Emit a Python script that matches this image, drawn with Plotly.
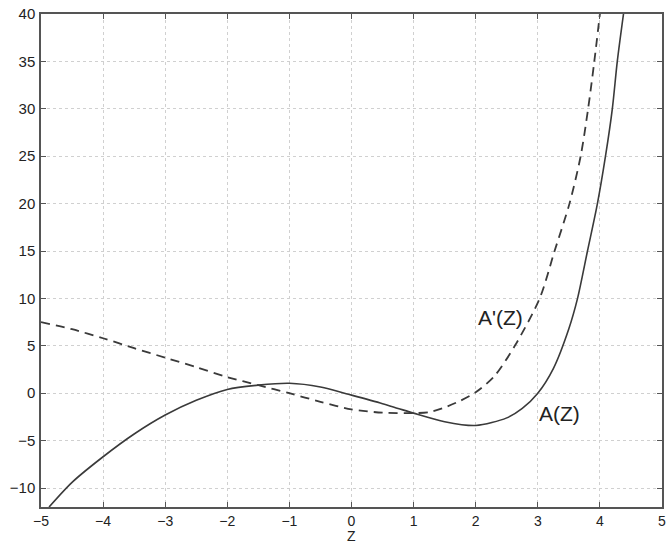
import plotly.graph_objects as go

# A(Z) solid curve
a_z = [-4.87, -4.5, -4.0, -3.5, -3.0, -2.5, -2.0, -1.5, -1.0, -0.5, 0.0, 0.5, 0.75, 1.0, 1.5, 2.0, 2.5, 2.75, 3.0, 3.25, 3.5, 3.64, 3.8, 3.96, 4.09, 4.2, 4.28, 4.38]
a_val = [-12.0, -9.4, -6.7, -4.3, -2.3, -0.75, 0.4, 0.85, 1.05, 0.66, -0.2, -1.1, -1.6, -2.1, -3.0, -3.4, -2.6, -1.6, 0.0, 2.6, 6.8, 10.0, 15.0, 20.0, 25.0, 30.0, 35.0, 40.0]

# A'(Z) dashed curve
d_z = [-5.0, -4.5, -4.0, -3.5, -3.0, -2.5, -2.0, -1.5, -1.0, -0.5, 0.0, 0.5, 1.0, 1.25, 1.5, 1.75, 2.0, 2.3, 2.63, 3.03, 3.27, 3.51, 3.69, 3.81, 3.91, 4.0]
d_val = [7.5, 6.75, 5.8, 4.75, 3.75, 2.75, 1.7, 0.85, 0.0, -0.9, -1.7, -2.05, -2.1, -2.0, -1.5, -0.8, 0.1, 1.8, 5.0, 10.0, 15.0, 20.0, 25.0, 30.0, 35.0, 40.0]

x_ticks = [-5, -4, -3, -2, -1, 0, 1, 2, 3, 4, 5]
y_ticks = [-10, -5, 0, 5, 10, 15, 20, 25, 30, 35, 40]
x_title = "Z"

font_fam = "Liberation Sans, Arial, sans-serif"
line_col = "#3a3a3a"
fig = go.Figure()
fig.add_trace(go.Scatter(x=a_z, y=a_val, mode="lines", line=dict(color=line_col, width=1.6, shape="spline", smoothing=0.8), showlegend=False))
fig.add_trace(go.Scatter(x=d_z, y=d_val, mode="lines", line=dict(color=line_col, width=1.8, shape="spline", smoothing=0.8, dash="9px,6px"), showlegend=False))

fig.add_annotation(x=2.4, y=8.0, text="A'(Z)", showarrow=False, font=dict(size=21, color="#222", family=font_fam))
fig.add_annotation(x=3.35, y=-2.1, text="A(Z)", showarrow=False, font=dict(size=21, color="#222", family=font_fam))
fig.add_annotation(x=0, y=-0.058, xref="x", yref="paper", yanchor="middle", text=x_title, showarrow=False,
                   font=dict(size=14, color="#222", family=font_fam))

axis_common = dict(
    showline=True, linecolor="#555", linewidth=1.5, mirror="ticks",
    ticks="inside", ticklen=5, tickcolor="#555",
    showgrid=True, gridcolor="#d0d0d0", griddash="dot", gridwidth=1,
    zeroline=False,
)
fig.update_xaxes(range=[-5, 5], tickvals=x_ticks, tickfont=dict(size=14, color="#222", family=font_fam), **axis_common)
fig.update_yaxes(range=[-12, 40], tickvals=y_ticks, ticklabelstandoff=1, tickfont=dict(size=15, color="#222", family=font_fam), **axis_common)

fig.update_layout(
    width=667, height=544,
    margin=dict(l=41, r=5, t=14, b=37, autoexpand=False),
    plot_bgcolor="white", paper_bgcolor="white",
)
fig.write_html("out.html", config={"displayModeBar": False},
               post_script="document.body.style.margin='0';document.body.style.padding='0';")
